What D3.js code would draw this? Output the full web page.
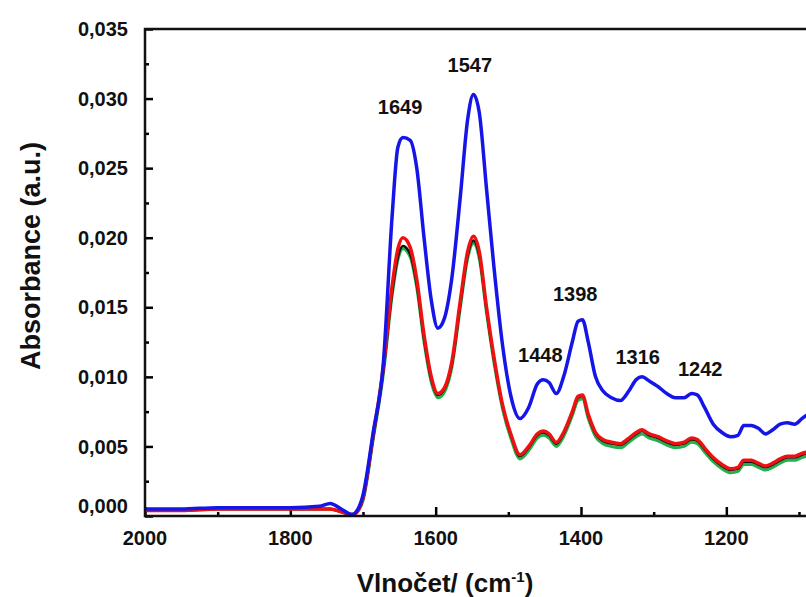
<!DOCTYPE html>
<html>
<head>
<meta charset="utf-8">
<script src="https://cdn.jsdelivr.net/npm/d3@7"></script>
<style>
  html, body { margin: 0; padding: 0; background: #fff; }
  svg { display: block; }
  text { font-family: "Liberation Sans", Arial, sans-serif; font-weight: bold; fill: #111; }
</style>
</head>
<body>
<svg id="chart" width="806" height="597"></svg>
<script>
// wavenumber grid (cm-1), shared by all spectra
const wavenumbers = [2000, 1950, 1900, 1850, 1800, 1760, 1745, 1730, 1715, 1708, 1700, 1686, 1672, 1660, 1652, 1645, 1635, 1626, 1616, 1606, 1597, 1588, 1578, 1566, 1556, 1548, 1540, 1530, 1520, 1508, 1496, 1484, 1472, 1460, 1452, 1444, 1434, 1424, 1412, 1404, 1398, 1390, 1380, 1370, 1358, 1346, 1334, 1324, 1316, 1306, 1294, 1282, 1270, 1258, 1248, 1240, 1230, 1218, 1206, 1194, 1184, 1176, 1166, 1156, 1146, 1136, 1126, 1116, 1106, 1096, 1088];

const blueValues = [0.0005, 0.0005, 0.0006, 0.0006, 0.0006, 0.0007, 0.0009, 0.0005, 0.0001, 0.0004, 0.0015, 0.0060, 0.0110, 0.0215, 0.0265, 0.0272, 0.0270, 0.0250, 0.0200, 0.0155, 0.0135, 0.0142, 0.0170, 0.0230, 0.0285, 0.0303, 0.0290, 0.0235, 0.0180, 0.0123, 0.0085, 0.0070, 0.0078, 0.0095, 0.0098, 0.0096, 0.0088, 0.0100, 0.0125, 0.0140, 0.0141, 0.0125, 0.0100, 0.0090, 0.0085, 0.0083, 0.0090, 0.0098, 0.0100, 0.0097, 0.0093, 0.0088, 0.0085, 0.0085, 0.0088, 0.0087, 0.0078, 0.0066, 0.0060, 0.0057, 0.0058, 0.0065, 0.0065, 0.0063, 0.0059, 0.0062, 0.0066, 0.0067, 0.0066, 0.0070, 0.0073];

const redValues = [0.0004, 0.0004, 0.0005, 0.0005, 0.0005, 0.0005, 0.0005, 0.0003, 0.0001, 0.0003, 0.0013, 0.0058, 0.0107, 0.0165, 0.0192, 0.0200, 0.0193, 0.0170, 0.0130, 0.0100, 0.0088, 0.0092, 0.0110, 0.0155, 0.0190, 0.0201, 0.0190, 0.0150, 0.0115, 0.0080, 0.0058, 0.0044, 0.0050, 0.0059, 0.0061, 0.0059, 0.0053, 0.0060, 0.0075, 0.0086, 0.0087, 0.0073, 0.0060, 0.0055, 0.0053, 0.0052, 0.0056, 0.0060, 0.0062, 0.0059, 0.0057, 0.0054, 0.0052, 0.0053, 0.0056, 0.0055, 0.0049, 0.0042, 0.0037, 0.0034, 0.0035, 0.0040, 0.0040, 0.0038, 0.0036, 0.0038, 0.0041, 0.0043, 0.0043, 0.0045, 0.0046];

const blackValues = [0.0004, 0.0004, 0.0005, 0.0005, 0.0005, 0.0005, 0.0005, 0.0003, 0.0001, 0.0003, 0.0012, 0.0056, 0.0104, 0.0160, 0.0186, 0.0194, 0.0188, 0.0166, 0.0127, 0.0098, 0.0087, 0.0091, 0.0108, 0.0152, 0.0187, 0.0198, 0.0187, 0.0148, 0.0113, 0.0079, 0.0057, 0.0043, 0.0049, 0.0058, 0.0060, 0.0058, 0.0052, 0.0059, 0.0074, 0.0085, 0.0086, 0.0072, 0.0059, 0.0054, 0.0052, 0.0051, 0.0055, 0.0059, 0.0061, 0.0058, 0.0056, 0.0053, 0.0051, 0.0052, 0.0055, 0.0054, 0.0048, 0.0041, 0.0036, 0.0033, 0.0034, 0.0039, 0.0039, 0.0037, 0.0035, 0.0037, 0.0040, 0.0042, 0.0042, 0.0044, 0.0045];

const greenValues = [0.0004, 0.0004, 0.0005, 0.0005, 0.0005, 0.0005, 0.0005, 0.0003, 0.0001, 0.0003, 0.0011, 0.0055, 0.0102, 0.0158, 0.0184, 0.0192, 0.0186, 0.0164, 0.0125, 0.0096, 0.0085, 0.0089, 0.0106, 0.0150, 0.0185, 0.0196, 0.0185, 0.0146, 0.0111, 0.0077, 0.0055, 0.0041, 0.0047, 0.0056, 0.0058, 0.0056, 0.0050, 0.0057, 0.0072, 0.0083, 0.0084, 0.0070, 0.0057, 0.0052, 0.0050, 0.0049, 0.0053, 0.0057, 0.0059, 0.0056, 0.0054, 0.0051, 0.0049, 0.0050, 0.0053, 0.0052, 0.0046, 0.0039, 0.0034, 0.0031, 0.0032, 0.0037, 0.0037, 0.0035, 0.0033, 0.0035, 0.0038, 0.0040, 0.0040, 0.0042, 0.0043];

// peak annotations: label, wavenumber and absorbance of the label's baseline
const peakLabels = ["1649", "1547", "1448", "1398", "1316", "1242"];
const peakLabelX = [1649, 1553, 1456, 1408, 1322, 1236];
const peakLabelY = [0.0289, 0.0319, 0.0111, 0.01545, 0.0109, 0.01006];

const xTicks = [2000, 1800, 1600, 1400, 1200];
const xMinorTicks = [1900, 1700, 1500, 1300, 1100];
const yTicks = [0, 0.005, 0.010, 0.015, 0.020, 0.025, 0.030, 0.035];
const yMinorTicks = [0.0025, 0.0075, 0.0125, 0.0175, 0.0225, 0.0275, 0.0325];

const svg = d3.select("#chart");
const mLeft = 145, mRight = 806, mTop = 29, mBottom = 516;

const x = d3.scaleLinear().domain([2000, 1100]).range([mLeft, 799]);
const y = d3.scaleLinear().domain([0, 0.035]).range([mBottom, mTop]);

svg.append("defs").append("clipPath").attr("id", "clip")
  .append("rect").attr("x", mLeft).attr("y", mTop).attr("width", mRight - mLeft).attr("height", mBottom - mTop);

const comma = v => d3.format(".3f")(v).replace(".", ",");

// minor ticks
svg.append("g")
  .attr("transform", "translate(" + mLeft + ",0)")
  .call(d3.axisRight(y).tickValues(yMinorTicks).tickSize(4).tickFormat(""))
  .call(g => g.select(".domain").remove())
  .call(g => g.selectAll("line").attr("stroke-width", 2.5));

svg.append("g")
  .attr("transform", "translate(0," + mBottom + ")")
  .call(d3.axisTop(x).tickValues(xMinorTicks).tickSize(4).tickFormat(""))
  .call(g => g.select(".domain").remove())
  .call(g => g.selectAll("line").attr("stroke-width", 2.5));

// major ticks (inside)
svg.append("g")
  .attr("transform", "translate(" + mLeft + ",0)")
  .call(d3.axisRight(y).tickValues(yTicks).tickSize(8).tickFormat(""))
  .call(g => g.select(".domain").remove())
  .call(g => g.selectAll("line").attr("stroke-width", 2.5));

svg.append("g")
  .attr("transform", "translate(0," + mBottom + ")")
  .call(d3.axisTop(x).tickValues(xTicks).tickSize(9).tickFormat(""))
  .call(g => g.select(".domain").remove())
  .call(g => g.selectAll("line").attr("stroke-width", 2.5));

// tick labels
svg.append("g")
  .selectAll("text")
  .data(yTicks)
  .join("text")
  .attr("x", 128)
  .attr("y", d => y(d) + (d === 0 ? -10 : 0))
  .attr("dy", "0.36em")
  .attr("text-anchor", "end")
  .style("font-size", "20px")
  .text(comma);

svg.append("g")
  .selectAll("text")
  .data(xTicks)
  .join("text")
  .attr("x", d => x(d))
  .attr("y", 545)
  .attr("text-anchor", "middle")
  .style("font-size", "20px")
  .text(d => d);

// spectra
const line = d3.line()
  .x((d, i) => x(wavenumbers[i]))
  .y(d => y(d))
  .curve(d3.curveMonotoneX);

const plot = svg.append("g").attr("clip-path", "url(#clip)");

plot.append("path").attr("d", line(greenValues))
  .attr("fill", "none").attr("stroke", "#22b14c").attr("stroke-width", 3).attr("stroke-linejoin", "round");
plot.append("path").attr("d", line(blackValues))
  .attr("fill", "none").attr("stroke", "#111").attr("stroke-width", 2.5).attr("stroke-linejoin", "round");
plot.append("path").attr("d", line(redValues))
  .attr("fill", "none").attr("stroke", "#ee1111").attr("stroke-width", 3.5).attr("stroke-linejoin", "round");
plot.append("path").attr("d", line(blueValues))
  .attr("fill", "none").attr("stroke", "#1515e8").attr("stroke-width", 3.5).attr("stroke-linejoin", "round");

// frame: left, bottom, top
svg.append("path")
  .attr("d", d3.line()([[mRight, mTop], [mLeft, mTop], [mLeft, mBottom], [mRight, mBottom]]))
  .attr("fill", "none").attr("stroke", "#111").attr("stroke-width", 2.5);

// peak labels
svg.append("g")
  .selectAll("text")
  .data(peakLabels)
  .join("text")
  .attr("x", (d, i) => x(peakLabelX[i]))
  .attr("y", (d, i) => y(peakLabelY[i]))
  .attr("text-anchor", "middle")
  .style("font-size", "20px")
  .text(d => d);

// axis titles
svg.append("text")
  .attr("transform", "translate(40,256) rotate(-90)")
  .attr("text-anchor", "middle")
  .style("font-size", "27px")
  .text("Absorbance (a.u.)");

const xt = svg.append("text")
  .attr("x", 445)
  .attr("y", 592)
  .attr("text-anchor", "middle")
  .style("font-size", "26px");
xt.append("tspan").text("Vlnočet/ (cm");
xt.append("tspan").attr("dy", -10).style("font-size", "15px").text("-1");
xt.append("tspan").attr("dy", 10).text(")");
</script>
</body>
</html>
